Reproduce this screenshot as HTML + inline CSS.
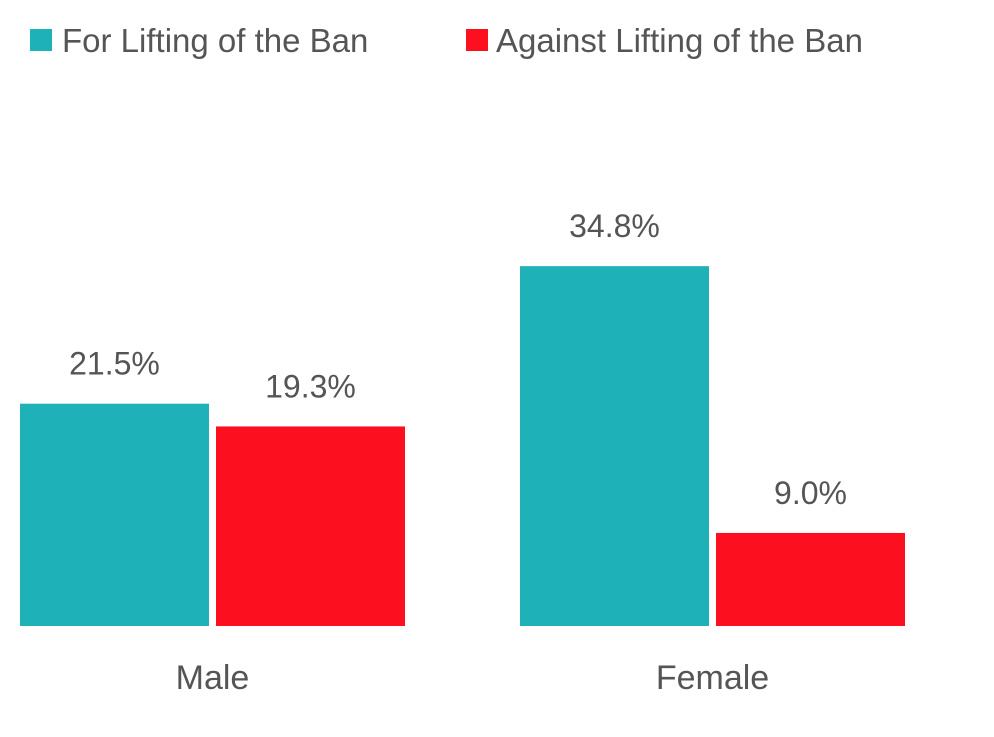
<!DOCTYPE html>
<html><head><meta charset="utf-8"><style>
body{margin:0;background:#fff;}
svg text{font-family:"Liberation Sans",sans-serif;fill:#555;}
</style></head><body>
<svg width="994" height="732">
<g>
<rect x="30" y="29" width="22" height="22" fill="#1eb2b8"/>
<text x="62" y="52" font-size="33">For Lifting of the Ban</text>
<rect x="466" y="29" width="22" height="22" fill="#fc101f"/>
<text x="496" y="52" font-size="33">Against Lifting of the Ban</text>
</g>
<g id="bars"></g>
</svg>
<script>
const categories=["Male","Female"];
const forValues=[21.5,34.8];
const againstValues=[19.3,9.0];
const seriesColors=["#1eb2b8","#fc101f"];
const baseY=626, scale=10.34;
const groupX=[20,520], barW=189, gap=7;
const y=v=>baseY-v*scale;
const g=document.getElementById('bars');
const ns="http://www.w3.org/2000/svg";
categories.forEach((c,i)=>{
  [forValues[i],againstValues[i]].forEach((v,s)=>{
    const x=groupX[i]+s*(barW+gap);
    const r=document.createElementNS(ns,'rect');
    
    
    r.setAttribute('x',x);r.setAttribute('y',y(v));
    r.setAttribute('width',barW);r.setAttribute('height',baseY-y(v));
    r.setAttribute('fill',seriesColors[s]);
    g.appendChild(r);
    const t=document.createElementNS(ns,'text');
    
    
    t.setAttribute('x',x+barW/2);t.setAttribute('y',y(v)-29);
    t.setAttribute('text-anchor','middle');t.setAttribute('font-size','32');
    t.textContent=v.toFixed(1)+'%';
    g.appendChild(t);
  });
  const l=document.createElementNS(ns,'text');
  
  
  l.setAttribute('x',groupX[i]+barW+gap/2);l.setAttribute('y',689);
  l.setAttribute('text-anchor','middle');l.setAttribute('font-size','34');
  l.textContent=c;
  g.appendChild(l);
});
</script>
</body></html>
